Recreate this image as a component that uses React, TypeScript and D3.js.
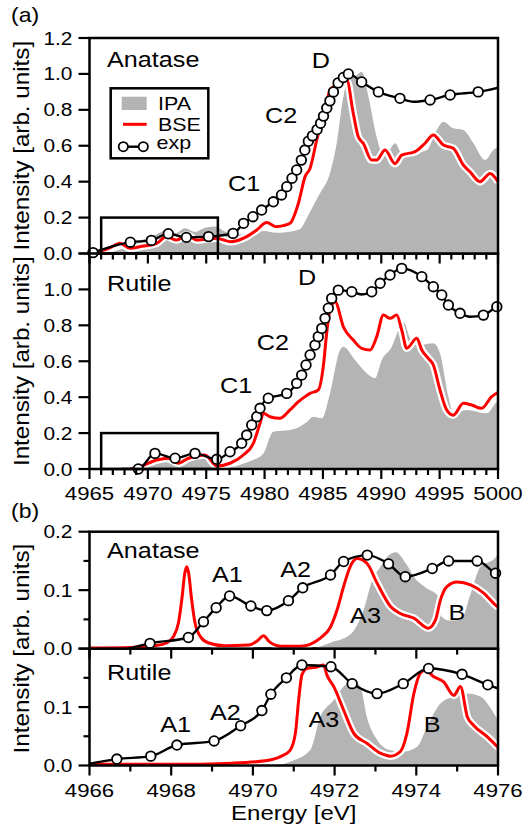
import React from 'react';
import * as d3 from 'd3';

type Pt = [number, number];
// third value 0 = point only on the line, no open circle
type ExpPt = [number, number, number?];
type Note = [string, number, number];

// ---------- (a) 4965-5000 eV, anatase ----------
const anataseA_IPA: Pt[] = [
  [4965.0, 0.0], [4966.5, 0.005], [4967.5, 0.02], [4968.5, 0.045], [4969.3, 0.07],
  [4970.2, 0.09], [4971.0, 0.115], [4971.6, 0.13], [4972.3, 0.11], [4973.2, 0.14],
  [4974.0, 0.12], [4975.0, 0.145], [4975.8, 0.15], [4976.5, 0.125], [4977.5, 0.105],
  [4978.5, 0.11], [4980.0, 0.125], [4981.0, 0.115], [4982.0, 0.12], [4983.0, 0.135],
  [4983.9, 0.233], [4984.75, 0.335], [4985.6, 0.447], [4986.18, 0.614], [4986.75, 0.873],
  [4987.32, 0.984], [4987.8, 0.99], [4988.32, 1.012], [4988.9, 0.873], [4989.6, 0.65],
  [4990.0, 0.57], [4990.47, 0.558], [4991.18, 0.614], [4991.9, 0.539], [4992.9, 0.558],
  [4993.9, 0.576], [4994.75, 0.688], [4995.32, 0.734], [4996.17, 0.697], [4997.03, 0.688],
  [4997.9, 0.614], [4998.9, 0.52], [4999.6, 0.576], [5000.0, 0.595],
];
const anataseA_BSE: Pt[] = [
  [4965.0, 0.005], [4966.3, 0.02], [4967.0, 0.04], [4967.6, 0.057], [4968.47, 0.029],
  [4969.5, 0.04], [4970.76, 0.057], [4971.6, 0.094], [4972.47, 0.075], [4973.33, 0.103],
  [4974.19, 0.075], [4975.0, 0.08], [4975.9, 0.085], [4977.04, 0.066], [4978.47, 0.094],
  [4979.3, 0.13], [4980.18, 0.172], [4981.04, 0.149], [4981.6, 0.155], [4982.18, 0.168],
  [4982.9, 0.28], [4983.47, 0.428], [4983.9, 0.475], [4984.47, 0.632], [4985.18, 0.8],
  [4985.6, 0.91], [4985.9, 0.929], [4986.5, 0.95], [4987.04, 0.966], [4987.6, 0.78],
  [4988.03, 0.65], [4988.46, 0.613], [4989.18, 0.52], [4989.61, 0.52], [4990.32, 0.576],
  [4991.18, 0.5], [4991.75, 0.548], [4992.9, 0.567], [4993.75, 0.614], [4994.46, 0.66],
  [4995.32, 0.604], [4996.17, 0.586], [4997.03, 0.493], [4997.6, 0.455], [4998.46, 0.4],
  [4999.32, 0.446], [5000.0, 0.4],
];
const anataseA_Exp: ExpPt[] = [
  [4965.3, 0.005], [4968.5, 0.063], [4970.3, 0.073], [4971.75, 0.11], [4973.3, 0.09],
  [4975.2, 0.094], [4977.3, 0.112], [4978.2, 0.168], [4979.0, 0.205], [4979.75, 0.242],
  [4980.75, 0.288], [4981.45, 0.326], [4981.9, 0.372], [4982.35, 0.419], [4982.75, 0.465],
  [4983.15, 0.52], [4983.45, 0.576], [4983.75, 0.625], [4984.1, 0.655], [4984.5, 0.69],
  [4984.8, 0.725], [4985.05, 0.765], [4985.33, 0.81], [4985.6, 0.85], [4985.9, 0.9],
  [4986.3, 0.95], [4986.75, 0.98], [4987.18, 1.0], [4988.32, 0.955], [4989.75, 0.9],
  [4991.6, 0.864], [4992.75, 0.845, 0], [4994.18, 0.855], [4995.9, 0.883], [4998.3, 0.9],
  [5000.1, 0.925, 0],
];

// ---------- (a) 4965-5000 eV, rutile ----------
const rutileA_IPA: Pt[] = [
  [4965.0, 0.0], [4969.0, 0.0], [4969.8, 0.015], [4970.6, 0.03], [4971.47, 0.04],
  [4972.3, 0.02], [4973.3, 0.045], [4974.47, 0.068], [4975.3, 0.035], [4976.0, 0.01],
  [4977.0, 0.01], [4978.2, 0.03], [4979.0, 0.05], [4979.9, 0.087], [4980.75, 0.208],
  [4982.18, 0.217], [4983.04, 0.236], [4983.6, 0.26], [4984.18, 0.291], [4984.9, 0.282],
  [4985.6, 0.421], [4986.47, 0.663], [4986.75, 0.681], [4987.75, 0.607], [4988.75, 0.533],
  [4989.46, 0.505], [4990.04, 0.607], [4990.9, 0.681], [4991.6, 0.792], [4991.9, 0.82],
  [4992.47, 0.728], [4993.18, 0.69], [4994.46, 0.7], [4995.03, 0.644], [4995.75, 0.403],
  [4996.17, 0.31], [4997.32, 0.329], [4999.03, 0.31], [4999.9, 0.375], [5000.0, 0.38],
];
const rutileA_BSE: Pt[] = [
  [4968.5, 0.0], [4969.33, 0.013], [4970.76, 0.05], [4971.75, 0.06], [4972.6, 0.032],
  [4973.47, 0.06], [4974.9, 0.078], [4975.9, 0.017], [4977.04, 0.032], [4978.18, 0.078],
  [4979.04, 0.143], [4979.61, 0.254], [4979.9, 0.31], [4980.47, 0.291], [4981.32, 0.282],
  [4982.18, 0.329], [4982.9, 0.375], [4983.47, 0.403], [4983.9, 0.421], [4984.6, 0.44],
  [4985.03, 0.57], [4985.32, 0.756], [4985.6, 0.885], [4986.04, 0.932], [4986.75, 0.792],
  [4987.6, 0.718], [4988.32, 0.672], [4989.04, 0.663], [4989.61, 0.737], [4990.18, 0.857],
  [4990.75, 0.839], [4991.32, 0.857], [4991.75, 0.774], [4992.18, 0.672], [4993.04, 0.728],
  [4993.47, 0.663], [4994.03, 0.616], [4994.46, 0.579], [4995.03, 0.44], [4995.6, 0.329],
  [4996.17, 0.3], [4997.03, 0.366], [4997.75, 0.356], [4998.6, 0.338], [4999.46, 0.403],
  [5000.0, 0.425],
];
const rutileA_Exp: ExpPt[] = [
  [4967.76, 0.0, 0], [4969.18, 0.0], [4970.61, 0.087], [4972.33, 0.06], [4974.04, 0.087],
  [4975.9, 0.054], [4977.04, 0.096], [4978.04, 0.143], [4978.47, 0.189], [4978.9, 0.245],
  [4979.33, 0.291], [4979.61, 0.338], [4980.32, 0.394], [4981.9, 0.421], [4982.75, 0.477],
  [4983.18, 0.523], [4983.55, 0.579], [4983.9, 0.635], [4984.32, 0.69], [4984.6, 0.737],
  [4984.9, 0.783], [4985.18, 0.839], [4985.46, 0.895], [4985.75, 0.95], [4986.32, 0.996],
  [4987.47, 0.987], [4988.3, 0.972, 0], [4989.18, 0.987], [4989.9, 1.034], [4990.75, 1.08],
  [4991.75, 1.117], [4993.47, 1.071], [4994.46, 1.015], [4995.18, 0.969], [4995.75, 0.913],
  [4996.75, 0.867], [4997.6, 0.848, 0], [4998.75, 0.857], [4999.9, 0.904], [5000.1, 0.91, 0],
];

// ---------- (b) 4966-4976 eV, anatase ----------
const anataseB_IPA: Pt[] = [
  [4971.5, 0.0], [4971.9, 0.01], [4972.38, 0.024], [4972.71, 0.066], [4972.92, 0.117],
  [4973.12, 0.14], [4973.3, 0.158], [4973.5, 0.165], [4973.75, 0.145], [4973.94, 0.123],
  [4974.26, 0.103], [4974.51, 0.092], [4974.62, 0.055], [4974.8, 0.048], [4975.1, 0.05],
  [4975.33, 0.094], [4975.57, 0.14], [4975.9, 0.153], [4976.0, 0.16],
];
const anataseB_BSE: Pt[] = [
  [4966.0, 0.001], [4967.0, 0.002], [4967.6, 0.005], [4967.9, 0.01], [4968.05, 0.02],
  [4968.18, 0.045], [4968.27, 0.09], [4968.33, 0.128], [4968.38, 0.14], [4968.43, 0.128],
  [4968.49, 0.09], [4968.58, 0.045], [4968.72, 0.02], [4968.9, 0.01], [4969.3, 0.005],
  [4969.9, 0.006], [4970.12, 0.014], [4970.26, 0.022], [4970.4, 0.012], [4970.7, 0.004],
  [4971.16, 0.004], [4971.65, 0.018], [4971.9, 0.037], [4972.06, 0.066], [4972.22, 0.106],
  [4972.38, 0.14], [4972.55, 0.154], [4972.79, 0.146], [4973.04, 0.112], [4973.37, 0.072],
  [4973.61, 0.06], [4973.94, 0.052], [4974.3, 0.035], [4974.47, 0.049], [4974.59, 0.083],
  [4974.75, 0.106], [4975.0, 0.114], [4975.33, 0.109], [4975.65, 0.095], [4975.98, 0.072],
  [4976.0, 0.071],
];
const anataseB_Exp: ExpPt[] = [
  [4966.95, 0.0, 0], [4967.48, 0.009], [4968.42, 0.019], [4968.79, 0.046], [4969.1, 0.07],
  [4969.43, 0.09], [4969.95, 0.073], [4970.34, 0.065], [4970.87, 0.082], [4971.22, 0.104],
  [4971.9, 0.126], [4972.22, 0.149], [4972.8, 0.16], [4973.32, 0.145], [4973.73, 0.123],
  [4974.39, 0.137], [4974.79, 0.15], [4975.49, 0.15], [4975.94, 0.129], [4976.0, 0.127, 0],
];

// ---------- (b) 4966-4976 eV, rutile ----------
const rutileB_IPA: Pt[] = [
  [4970.6, 0.0], [4970.91, 0.0065], [4971.4, 0.026], [4971.65, 0.083], [4971.98, 0.112],
  [4972.22, 0.135], [4972.43, 0.146], [4972.63, 0.135], [4972.79, 0.083], [4973.04, 0.044],
  [4973.37, 0.026], [4973.69, 0.024], [4974.02, 0.032], [4974.26, 0.066], [4974.59, 0.106],
  [4974.92, 0.118], [4975.25, 0.123], [4975.57, 0.118], [4975.82, 0.098], [4976.0, 0.077],
];
const rutileB_BSE: Pt[] = [
  [4966.0, 0.002], [4968.0, 0.002], [4969.5, 0.004], [4970.3, 0.008], [4970.7, 0.016],
  [4970.91, 0.026], [4971.04, 0.055], [4971.12, 0.112], [4971.2, 0.155], [4971.32, 0.166],
  [4971.55, 0.168], [4971.73, 0.172], [4971.81, 0.155], [4971.98, 0.135], [4972.22, 0.095],
  [4972.47, 0.055], [4972.79, 0.038], [4973.12, 0.021], [4973.37, 0.016], [4973.61, 0.024],
  [4973.77, 0.055], [4973.94, 0.123], [4974.1, 0.158], [4974.22, 0.163], [4974.43, 0.152],
  [4974.67, 0.143], [4974.92, 0.12], [4975.08, 0.135], [4975.25, 0.083], [4975.4, 0.069],
  [4975.74, 0.049], [4976.0, 0.031],
];
const rutileB_Exp: ExpPt[] = [
  [4966.0, 0.003, 0], [4966.67, 0.011], [4967.5, 0.016], [4968.14, 0.035], [4969.05, 0.042],
  [4969.7, 0.068], [4970.22, 0.094], [4970.44, 0.122], [4970.82, 0.15], [4971.2, 0.172],
  [4971.91, 0.169], [4972.43, 0.14], [4973.04, 0.123], [4973.68, 0.14], [4974.3, 0.166],
  [4975.12, 0.156], [4975.75, 0.138], [4976.0, 0.132, 0],
];

// panel names and peak labels, anchored in data coords (left / baseline)
const notesAnataseA: Note[] = [['Anatase', 4966.5, 1.038], ['D', 4984.04, 1.033], ['C2', 4980.04, 0.727], ['C1', 4976.87, 0.348]];
const notesRutileA: Note[] = [['Rutile', 4966.5, 0.991], ['D', 4982.87, 1.024], ['C2', 4979.33, 0.663], ['C1', 4976.18, 0.425]];
const notesAnataseB: Note[] = [['Anatase', 4966.43, 0.155], ['A1', 4969.0, 0.114], ['A2', 4970.67, 0.122], ['A3', 4972.38, 0.043], ['B', 4974.79, 0.049]];
const notesRutileB: Note[] = [['Rutile', 4966.43, 0.146], ['A1', 4967.73, 0.058], ['A2', 4968.95, 0.078], ['A3', 4971.36, 0.066], ['B', 4974.18, 0.058]];

const X_DOMAIN_A: Pt = [4965, 5000];
const X_DOMAIN_B: Pt = [4966, 4976]; // also the boxed region in (a)
const Y_MAX_A = 1.2;
const Y_MAX_B = 0.2;
const Y_TICKS_A = [0, 0.2, 0.4, 0.6, 0.8, 1.0, 1.2];
const Y_TICKS_B = [0, 0.1, 0.2];
const Y_MINOR_B = [0.05, 0.15];

const FONT = '"Liberation Sans", Arial, Helvetica, sans-serif';
const SX = 1.13;
const GRAY = '#b4b4b4';
const RED = '#ff0000';

const L = 89.5, R = 498;
const xA = d3.scaleLinear().domain(X_DOMAIN_A).range([L, R]);
const xB = d3.scaleLinear().domain(X_DOMAIN_B).range([L, R]);
const yAtop = d3.scaleLinear().domain([0, Y_MAX_A]).range([253.5, 38]);
const yAbot = d3.scaleLinear().domain([0, Y_MAX_A]).range([469, 253.5]);
const yBtop = d3.scaleLinear().domain([0, Y_MAX_B]).range([648.6, 531.7]);
const yBbot = d3.scaleLinear().domain([0, Y_MAX_B]).range([765.5, 648.6]);

const Txt = ({ x, y, size, anchor = 'start', rotate = false, sx = SX, children }: any) => (
  <text
    transform={`translate(${x},${y})${rotate ? ' rotate(-90)' : ''} scale(${sx},1)`}
    fontFamily={FONT} fontSize={size} textAnchor={anchor} fill="#000">
    {children}
  </text>
);

const Panel = ({ id, xs, ys, ipa, bse, exp, xMajor, yTicks, yMinor = [], yLabels, notes, inset, xLabels }: any) => {
  const [l, r] = xs.range();
  const [b, t] = ys.range();
  const [e0, e1] = xs.domain();
  const area = d3.area<Pt>().x(d => xs(d[0])).y0(b).y1(d => ys(d[1])).curve(d3.curveMonotoneX);
  const line = d3.line<Pt>().x(d => xs(d[0])).y(d => ys(d[1])).curve(d3.curveMonotoneX);
  const expLine = line(exp.map((d: ExpPt) => [d[0], d[1]] as Pt));
  const xt = d3.range(e0, e1 + 0.5, 1);
  const fmt = d3.format('.1f');

  return (
    <g>
      <defs>
        <clipPath id={id}><rect x={l} y={t} width={r - l} height={b - t} /></clipPath>
      </defs>
      <g clipPath={`url(#${id})`}>
        <path d={area(ipa) || ''} fill={GRAY} />
        <path d={line(bse) || ''} fill="none" stroke="#fff" strokeWidth={7.5} strokeLinejoin="round" />
        <path d={line(bse) || ''} fill="none" stroke={RED} strokeWidth={3} strokeLinejoin="round" />
        <path d={expLine || ''} fill="none" stroke="#000" strokeWidth={2.4} />
      </g>
      {exp.filter((d: ExpPt) => d[2] !== 0).map((d: ExpPt, i: number) => (
        <circle key={i} cx={xs(d[0])} cy={ys(d[1])} r={4.8} fill="#fff" stroke="#000" strokeWidth={1.8} />
      ))}
      {inset && (
        <rect x={xs(X_DOMAIN_B[0])} y={ys(Y_MAX_B)} width={xs(X_DOMAIN_B[1]) - xs(X_DOMAIN_B[0])}
          height={ys(0) - ys(Y_MAX_B)} fill="none" stroke="#000" strokeWidth={2.5} />
      )}
      {notes.map(([s, e, v]: Note, i: number) => (
        <Txt key={i} x={xs(e)} y={ys(v)} size={22.5} sx={1.12}>{s}</Txt>
      ))}
      <rect x={l} y={t} width={r - l} height={b - t} fill="none" stroke="#000" strokeWidth={2.5} />
      {xt.map(e => {
        const major = (e - e0) % xMajor === 0;
        return <line key={e} x1={xs(e)} x2={xs(e)} y1={b} y2={b + (major ? 10 : 6)} stroke="#000" strokeWidth={2.2} />;
      })}
      {xLabels && xt.filter(e => (e - e0) % xMajor === 0).map(e => (
        <Txt key={e} x={xs(e)} y={b + 31} size={19} anchor="middle" sx={1.17}>{e}</Txt>
      ))}
      {yTicks.map((v: number) => (
        <line key={v} x1={l - 11} x2={l} y1={ys(v)} y2={ys(v)} stroke="#000" strokeWidth={2.2} />
      ))}
      {yMinor.map((v: number) => (
        <line key={v} x1={l - 6} x2={l} y1={ys(v)} y2={ys(v)} stroke="#000" strokeWidth={2.2} />
      ))}
      {yLabels.map((v: number) => (
        <Txt key={v} x={l - 17} y={ys(v) + 6.5} size={18.5} anchor="end" sx={1.13}>{fmt(v)}</Txt>
      ))}
    </g>
  );
};

const Legend = () => (
  <g>
    <rect x={110.7} y={88.3} width={97.6} height={70} fill="#fff" stroke="#000" strokeWidth={2.5} />
    <rect x={121.7} y={96.7} width={25} height={13.3} fill={GRAY} />
    <Txt x={158} y={110} size={18.5} sx={1.16}>IPA</Txt>
    <line x1={123} x2={146.7} y1={124.3} y2={124.3} stroke={RED} strokeWidth={3} />
    <Txt x={158} y={130.5} size={18.5} sx={1.16}>BSE</Txt>
    <line x1={123.3} x2={143.3} y1={146.7} y2={146.7} stroke="#000" strokeWidth={2.4} />
    <circle cx={123.3} cy={146.7} r={4.6} fill="#fff" stroke="#000" strokeWidth={1.8} />
    <circle cx={143.3} cy={146.7} r={4.6} fill="#fff" stroke="#000" strokeWidth={1.8} />
    <Txt x={156.5} y={149} size={18.5} sx={1.16}>exp</Txt>
  </g>
);

export default function App() {
  const yTitle = 'Intensity [arb. units]';
  return (
    <svg width={525} height={825} style={{ position: 'absolute', left: 0, top: 0, background: '#fff' }}>
      <rect width={525} height={825} fill="#fff" />
      <Panel id="aBot" xs={xA} ys={yAbot} ipa={rutileA_IPA} bse={rutileA_BSE} exp={rutileA_Exp}
        xMajor={5} yTicks={Y_TICKS_A} yLabels={Y_TICKS_A.slice(0, -1)} notes={notesRutileA} inset xLabels />
      <Panel id="aTop" xs={xA} ys={yAtop} ipa={anataseA_IPA} bse={anataseA_BSE} exp={anataseA_Exp}
        xMajor={5} yTicks={Y_TICKS_A} yLabels={Y_TICKS_A} notes={notesAnataseA} inset />
      <Legend />
      <Panel id="bBot" xs={xB} ys={yBbot} ipa={rutileB_IPA} bse={rutileB_BSE} exp={rutileB_Exp}
        xMajor={2} yTicks={Y_TICKS_B} yMinor={Y_MINOR_B} yLabels={Y_TICKS_B.slice(0, -1)} notes={notesRutileB} xLabels />
      <Panel id="bTop" xs={xB} ys={yBtop} ipa={anataseB_IPA} bse={anataseB_BSE} exp={anataseB_Exp}
        xMajor={2} yTicks={Y_TICKS_B} yMinor={Y_MINOR_B} yLabels={Y_TICKS_B} notes={notesAnataseB} />

      <Txt x={29} y={(38 + 253.5) / 2} size={22} anchor="middle" rotate sx={1.1}>{yTitle}</Txt>
      <Txt x={29} y={(253.5 + 469) / 2} size={22} anchor="middle" rotate sx={1.1}>{yTitle}</Txt>
      <Txt x={29} y={(531.7 + 765.5) / 2} size={22} anchor="middle" rotate sx={1.1}>{yTitle}</Txt>

      <Txt x={(L + R) / 2} y={820} size={20} anchor="middle" sx={1.2}>Energy [eV]</Txt>
      <Txt x={11} y={22} size={20} sx={1.15}>(a)</Txt>
      <Txt x={11} y={518} size={20} sx={1.15}>(b)</Txt>
    </svg>
  );
}
